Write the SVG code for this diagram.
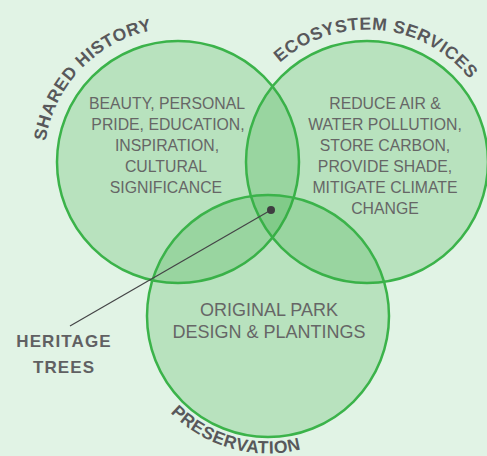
<svg xmlns="http://www.w3.org/2000/svg" width="487" height="456" viewBox="0 0 487 456">
  <style>
    .ring { fill: #36ac41; fill-opacity: 0.24; stroke: #3bb34a; stroke-width: 2.5; }
    .body { font-family: "Liberation Sans", Arial, sans-serif; font-size: 15.8px; fill: #666666; text-anchor: middle; }
    .big { font-size: 18px; }
    .title { font-family: "Liberation Sans", Arial, sans-serif; font-weight: bold; font-size: 17.5px; letter-spacing: 0.6px; fill: #58585b; text-anchor: middle; }
    .callout { font-family: "Liberation Sans", Arial, sans-serif; font-weight: bold; font-size: 17px; letter-spacing: 1.1px; fill: #606062; text-anchor: middle; }
    .leader { stroke: #444446; stroke-width: 1.2; fill: none; }
  </style>
  <defs>
    <path id="arcShared" d="M 83.25 256.75 A 134 134 0 0 1 269.4 64.0"/>
    <path id="arcEco" d="M 236.7 148.3 A 131 131 0 0 1 497.7 171.1"/>
    <path id="arcPres" d="M 135.4 281.5 A 137 137 0 0 0 399.3 355.1"/>
  </defs>
  <rect x="0" y="0" width="487" height="456" fill="#e1f3e5"/>

  <g id="shared-history">
    <circle class="ring" cx="178" cy="162" r="121"/>
    <text class="title"><textPath href="#arcShared" startOffset="50%">SHARED HISTORY</textPath></text>
    <text class="body" x="167" y="109">BEAUTY, PERSONAL</text>
    <text class="body" x="168" y="130">PRIDE, EDUCATION,</text>
    <text class="body" x="167" y="151">INSPIRATION,</text>
    <text class="body" x="166" y="172">CULTURAL</text>
    <text class="body" x="166" y="193">SIGNIFICANCE</text>
  </g>

  <g id="ecosystem-services">
    <circle class="ring" cx="367" cy="162" r="121"/>
    <text class="title"><textPath href="#arcEco" startOffset="50%">ECOSYSTEM SERVICES</textPath></text>
    <text class="body" x="385" y="109">REDUCE AIR &amp;</text>
    <text class="body" x="385" y="130">WATER POLLUTION,</text>
    <text class="body" x="385" y="151">STORE CARBON,</text>
    <text class="body" x="385" y="172">PROVIDE SHADE,</text>
    <text class="body" x="385" y="193">MITIGATE CLIMATE</text>
    <text class="body" x="385" y="214">CHANGE</text>
  </g>

  <g id="preservation">
    <circle class="ring" cx="268" cy="316" r="121"/>
    <text class="title"><textPath href="#arcPres" startOffset="50%">PRESERVATION</textPath></text>
    <text class="body big" x="269" y="316">ORIGINAL PARK</text>
    <text class="body big" x="269" y="338">DESIGN &amp; PLANTINGS</text>
  </g>

  <g id="connectors">
    <line class="leader" x1="271" y1="210" x2="70" y2="326"/>
  </g>

  <g id="heritage-trees">
    <circle cx="271" cy="210" r="4" fill="#3e3e40"/>
    <text class="callout" x="64" y="347">HERITAGE</text>
    <text class="callout" x="64" y="373">TREES</text>
  </g>
</svg>
